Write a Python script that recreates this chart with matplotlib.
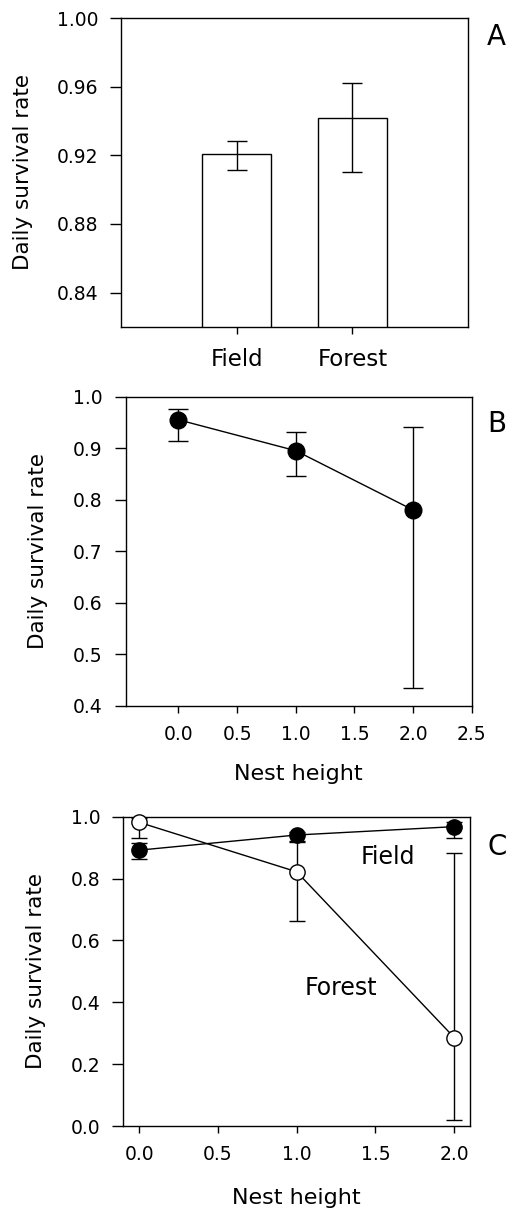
import numpy as np
import matplotlib
matplotlib.use('Agg')
import matplotlib.pyplot as plt
from matplotlib.ticker import FormatStrFormatter

plt.rcParams['font.family'] = ['DejaVu Sans']

# panel A: habitat
habitats = ['Field', 'Forest']
dsr_habitat = [0.9205, 0.9416]
err_lo_habitat = [0.0091, 0.0312]
err_hi_habitat = [0.0081, 0.0204]

# panel B: nest height, all nests
heights = [0.0, 1.0, 2.0]
dsr_height = [0.955, 0.895, 0.780]
err_lo_height = [0.042, 0.050, 0.346]
err_hi_height = [0.021, 0.037, 0.161]

# panel C: nest height by habitat
dsr_field = [0.892, 0.941, 0.968]
err_lo_field = [0.030, 0.024, 0.036]
err_hi_field = [0.024, 0.011, 0.016]
dsr_forest = [0.982, 0.822, 0.286]
err_lo_forest = [0.050, 0.160, 0.266]
err_hi_forest = [0.013, 0.098, 0.598]

fig = plt.figure(figsize=(5.09, 12.10), dpi=100)
axA = fig.add_axes([0.2377, 0.7298, 0.6817, 0.2553])
axB = fig.add_axes([0.2470, 0.4168, 0.6797, 0.2554])
axC = fig.add_axes([0.2423, 0.0694, 0.6811, 0.2556])

lw = 1.0
for ax in (axA, axB, axC):
    for sp in ax.spines.values():
        sp.set_linewidth(lw)
    ax.tick_params(axis='y', direction='out', length=8, width=lw, pad=8.5, labelsize=13.5)
    ax.tick_params(axis='x', direction='out', length=5, width=lw, pad=9, labelsize=13.5)
    ax.tick_params(top=False, right=False)

# A
x = np.arange(len(habitats))
axA.bar(x, dsr_habitat, width=0.6, color='white', edgecolor='black', linewidth=lw, zorder=2)
axA.errorbar(x, dsr_habitat, yerr=[err_lo_habitat, err_hi_habitat], fmt='none',
             ecolor='black', elinewidth=lw, capsize=7, capthick=lw, zorder=3)
axA.set_xlim(-1, 2)
axA.set_ylim(0.82, 1.00)
axA.set_yticks(np.arange(0.84, 1.001, 0.04))
axA.yaxis.set_major_formatter(FormatStrFormatter('%.2f'))
axA.set_xticks(x)
axA.set_xticklabels(habitats)
axA.tick_params(axis='x', labelsize=16.5, pad=10)
axA.set_ylabel('Daily survival rate', fontsize=15.5)
axA.yaxis.set_label_coords(-0.255, 0.5)

# B
axB.errorbar(heights, dsr_height, yerr=[err_lo_height, err_hi_height], fmt='o-',
             color='black', ms=12, lw=lw, elinewidth=lw, capsize=7, capthick=lw)
axB.set_xlim(-0.45, 2.5)
axB.set_ylim(0.4, 1.0)
axB.set_xticks(np.arange(0, 2.51, 0.5))
axB.set_yticks(np.arange(0.4, 1.01, 0.1))
axB.xaxis.set_major_formatter(FormatStrFormatter('%.1f'))
axB.yaxis.set_major_formatter(FormatStrFormatter('%.1f'))
axB.set_ylabel('Daily survival rate', fontsize=15.5)
axB.yaxis.set_label_coords(-0.225, 0.5)
axB.set_xlabel('Nest height', fontsize=16)
axB.xaxis.set_label_coords(0.5, -0.19)

# C
axC.errorbar(heights, dsr_forest, yerr=[err_lo_forest, err_hi_forest], fmt='o-',
             color='black', mfc='white', mec='black', ms=11, lw=lw, elinewidth=lw,
             capsize=6, capthick=lw, clip_on=False, zorder=3)
axC.errorbar(heights, dsr_field, yerr=[err_lo_field, err_hi_field], fmt='o-',
             color='black', ms=11, lw=lw, elinewidth=lw, capsize=6, capthick=lw,
             clip_on=False, zorder=4)
axC.set_xlim(-0.1, 2.1)
axC.set_ylim(0.0, 1.0)
axC.set_xticks(np.arange(0, 2.01, 0.5))
axC.set_yticks(np.arange(0, 1.01, 0.2))
axC.xaxis.set_major_formatter(FormatStrFormatter('%.1f'))
axC.yaxis.set_major_formatter(FormatStrFormatter('%.1f'))
axC.set_ylabel('Daily survival rate', fontsize=15.5)
axC.yaxis.set_label_coords(-0.222, 0.5)
axC.set_xlabel('Nest height', fontsize=16)
axC.xaxis.set_label_coords(0.5, -0.2)
axC.text(1.58, 0.870, 'Field', fontsize=17, ha='center', va='center')
axC.text(1.28, 0.447, 'Forest', fontsize=17, ha='center', va='center')

# panel letters
fig.text(0.957, 0.981, 'A', fontsize=20, ha='left', va='top')
fig.text(0.957, 0.661, 'B', fontsize=20, ha='left', va='top')
fig.text(0.957, 0.3116, 'C', fontsize=20, ha='left', va='top')

fig.savefig('out.png', dpi=100)
